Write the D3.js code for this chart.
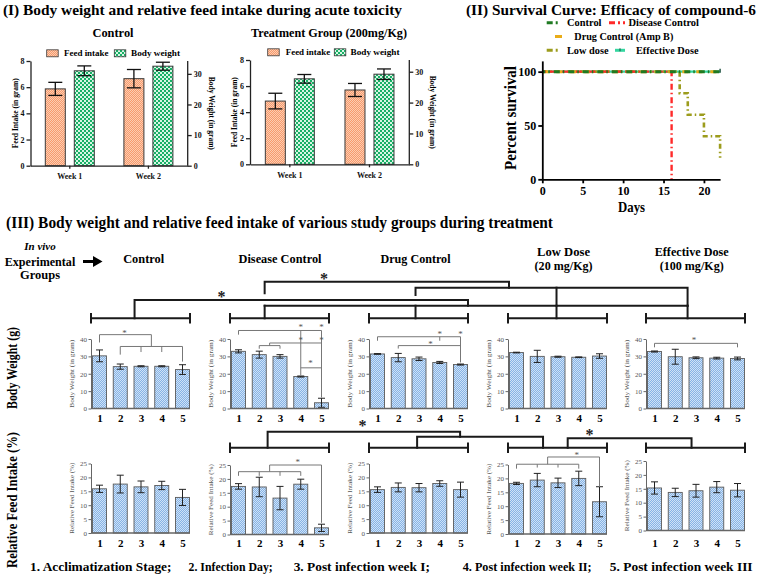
<!DOCTYPE html>
<html>
<head>
<meta charset="utf-8">
<script src="https://cdn.jsdelivr.net/npm/d3@7/dist/d3.min.js"></script>
<style>
html,body{margin:0;padding:0;background:#fff;}
svg{display:block;}
</style>
</head>
<body>
<svg id="chart" width="760" height="577"></svg>
<script>
// ================= DATA =================
// (I) Acute toxicity
const acuteWeeks = ["Week 1", "Week 2"];
const acuteSeries = ["Feed intake", "Body weight"];
const acuteFeedTicks = [0, 2, 4, 6, 8];
const acuteBWTicks = [0, 10, 20, 30];
const controlFeed = [5.87, 6.65];
const controlFeedErr = [0.5, 0.7];
const controlBW = [31.0, 32.5];
const controlBWErr = [1.6, 1.3];
const treatFeed = [4.85, 5.7];
const treatFeedErr = [0.6, 0.5];
const treatBW = [27.7, 29.2];
const treatBWErr = [1.4, 1.7];

// (II) Survival
const survivalNames = ["Control", "Disease Control", "Drug Control (Amp B)", "Low dose", "Effective Dose"];
const survivalDayTicks = [0, 5, 10, 15, 20];
const survivalPctTicks = [0, 50, 100];
const survEffectiveDays = [0, 22];   const survEffectivePct = [100, 100];
const survLowDays = [0, 17, 18, 20, 22]; const survLowPct = [100, 80, 60, 40, 20];
const survDrugDays = [0, 22];        const survDrugPct = [100, 100];
const survDiseaseDays = [0, 16];     const survDiseasePct = [100, 0];
const survControlDays = [0, 22];     const survControlPct = [100, 100];

// (III) Study groups
const studyGroups = ["Control", "Disease Control", "Drug Control", "Low Dose", "Effective Dose"];
const stageLabels = ["1", "2", "3", "4", "5"];
const stageNames = ["1. Acclimatization Stage;", "2. Infection Day;", "3. Post infection week I;", "4. Post infection week II;", "5. Post infection week III"];
const bwTicks = [0, 10, 20, 30, 40];
const fiTicks = [0, 5, 10, 15, 20, 25];
const bwMeans = [[30.3, 24.1, 24.3, 24.3, 22.4], [32.9, 31.0, 30.0, 18.4, 3.3], [31.4, 29.3, 28.6, 26.5, 25.3], [32.2, 30.0, 29.8, 29.5, 30.2], [32.8, 29.8, 29.2, 29.0, 28.8]];
const bwErrs = [[3.4, 1.5, 0.3, 0.3, 2.8], [0.9, 2.0, 1.0, 0.3, 2.6], [0.2, 2.4, 1.0, 0.6, 0.3], [0.2, 3.5, 0.3, 0.2, 1.3], [0.3, 4.3, 0.5, 0.5, 0.8]];
const fiMeans = [[15.9, 17.6, 16.6, 17.1, 12.8], [17.3, 17.1, 13.1, 18.1, 2.4], [15.6, 16.4, 16.3, 17.8, 15.6], [18.2, 19.4, 18.4, 20.0, 11.6], [15.3, 13.7, 14.3, 15.6, 14.5]];
const fiErrs = [[1.3, 3.2, 2.1, 1.5, 2.9], [1.0, 3.5, 4.2, 1.8, 1.3], [1.0, 1.6, 1.5, 1.0, 2.7], [0.4, 2.4, 1.7, 2.6, 5.4], [2.2, 1.5, 2.3, 2.0, 2.4]];
// significance annotations (stage position, value)
const bwBrackets = [
  [[[1, 38], [1, 42.5], [3.5, 42.5], [3.5, 35.7]], [[2, 31], [2, 35.7], [5, 35.7], [5, 27]], [[3, 32.5], [3, 35.7]], [[4, 32.5], [4, 35.7]]],
  [[[1, 42.5], [1, 44.9], [5, 44.9], [5, 6.3]], [[4, 44.9], [4, 19]], [[2, 34.4], [2, 36.2], [3, 36.2], [3, 34.4]], [[2.5, 36.2], [2.5, 37.7], [5, 37.7]], [[4, 23.4], [5, 23.4]]],
  [[[1, 39], [1, 41.3], [5, 41.3], [5, 26.5]], [[4, 41.3], [4, 39]], [[2, 34.5], [2, 36.2], [5, 36.2]]],
  [],
  [[[1, 35.2], [1, 37.5], [5, 37.5], [5, 35.2]]]
];
const bwStars = [[[2.2, 44.5]], [[4, 47.8], [5, 47.8], [4, 40.2], [5, 40.2], [4.47, 26.8]], [[4, 43.8], [5, 43.8], [3.55, 38.2]], [], [[2.9, 40.2]]];
const fiBrackets = [
  [],
  [[[1, 21.1], [1, 22.6], [4, 22.6], [4, 21.1]], [[2, 22.6], [2, 21.1]], [[3, 22.6], [3, 21.1]], [[2.5, 22.6], [2.5, 25], [5, 25], [5, 4.2]]],
  [],
  [[[1, 23.5], [1, 25.1], [4, 25.1], [4, 23.5]], [[2, 25.1], [2, 23.9]], [[3, 25.1], [3, 23.9]], [[2.5, 25.1], [2.5, 27.7], [5, 27.7], [5, 17]]],
  []
];
const fiStars = [[], [[3.85, 26.5]], [], [[3.9, 29]], []];

// ================= SETUP =================
const FONT = "'Liberation Serif','Times New Roman',Times,serif";
const svg = d3.select("#chart");
svg.append("rect").attr("width", 760).attr("height", 577).attr("fill", "#fff");

function label(x, y, s, o = {}) {
  const t = svg.append("text").attr("x", x).attr("y", y).text(s)
    .attr("font-family", FONT).attr("font-size", o.size || 12)
    .attr("font-weight", o.weight || "bold")
    .attr("fill", o.fill || "#000")
    .attr("text-anchor", o.anchor || "start");
  if (o.style) t.attr("font-style", o.style);
  if (o.len) t.attr("textLength", o.len).attr("lengthAdjust", "spacingAndGlyphs");
  if (o.rotate) t.attr("transform", `rotate(${o.rotate},${x},${y})`);
  if (o.dy) t.attr("dy", o.dy);
  return t;
}

const defs = svg.append("defs");
function checker(id, size, c1, c2, cell) {
  const p = defs.append("pattern").attr("id", id).attr("width", size).attr("height", size).attr("patternUnits", "userSpaceOnUse");
  p.append("rect").attr("width", size).attr("height", size).attr("fill", c1);
  p.append("rect").attr("width", cell).attr("height", cell).attr("fill", c2);
  p.append("rect").attr("x", cell).attr("y", cell).attr("width", cell).attr("height", cell).attr("fill", c2);
}
checker("pOrange", 2, "#F79A6C", "#FCCDB2", 1);
checker("pGreen", 4, "#17B066", "#D8F5E4", 2);
checker("pBlue", 2, "#86B3E6", "#CFE2F6", 1);

// ================= (I) =================
label(3, 15, "(I) Body weight and relative feed intake during acute toxicity", { size: 15.5, len: 399 });

function acutePanel(p) {
  const g = svg.append("g");
  const xW = d3.scaleBand().domain(acuteWeeks).range([p.x0, p.x1]);
  const xS = d3.scaleBand().domain(acuteSeries).range([-24.5, 24.5]).paddingInner(0.31);
  const yF = d3.scaleLinear().domain([0, 8]).range([p.y0, p.yTop]);
  const yB = d3.scaleLinear().domain([0, p.bwMax]).range([p.y0, p.yTop]);
  const rows = acuteWeeks.flatMap((w, i) => [
    { w, s: acuteSeries[0], v: p.feed[i], e: p.feedErr[i], y: yF, fill: "url(#pOrange)" },
    { w, s: acuteSeries[1], v: p.bw[i], e: p.bwErr[i], y: yB, fill: "url(#pGreen)" }]);
  const cx = d => xW(d.w) + xW.bandwidth() / 2 + xS(d.s) + xS.bandwidth() / 2;
  g.selectAll("rect.bar").data(rows).join("rect").attr("class", "bar")
    .attr("x", d => cx(d) - xS.bandwidth() / 2).attr("width", xS.bandwidth())
    .attr("y", d => d.y(d.v)).attr("height", d => p.y0 - d.y(d.v))
    .attr("fill", d => d.fill).attr("stroke", "#3a3a3a").attr("stroke-width", 1);
  const eb = g.selectAll("g.err").data(rows).join("g").attr("stroke", "#111").attr("stroke-width", 1.3);
  eb.append("line").attr("x1", cx).attr("x2", cx).attr("y1", d => d.y(d.v + d.e)).attr("y2", d => d.y(d.v - d.e));
  eb.append("line").attr("x1", d => cx(d) - 7).attr("x2", d => cx(d) + 7).attr("y1", d => d.y(d.v + d.e)).attr("y2", d => d.y(d.v + d.e));
  eb.append("line").attr("x1", d => cx(d) - 7).attr("x2", d => cx(d) + 7).attr("y1", d => d.y(d.v - d.e)).attr("y2", d => d.y(d.v - d.e));

  const styleAxis = (a, size) => {
    a.selectAll("path,line").attr("stroke", "#222").attr("stroke-width", 1.3);
    a.selectAll("text").attr("font-family", FONT).attr("font-weight", "bold").attr("font-size", size).attr("fill", "#111");
  };
  const aL = g.append("g").attr("transform", `translate(${p.x0},0)`)
    .call(d3.axisLeft(yF).tickValues(acuteFeedTicks).tickFormat(d3.format("d")).tickSize(4).tickSizeOuter(0).tickPadding(2));
  styleAxis(aL, 8);
  const aR = g.append("g").attr("transform", `translate(${p.x1},0)`)
    .call(d3.axisRight(yB).tickValues(acuteBWTicks).tickSize(4).tickSizeOuter(0).tickPadding(2));
  aR.select("path.domain").attr("d", `M0,${p.y0}V${p.yTop}`);
  styleAxis(aR, 8);
  const aB = g.append("g").attr("transform", `translate(0,${p.y0})`)
    .call(d3.axisBottom(xW).tickSize(3).tickSizeOuter(0).tickPadding(5));
  styleAxis(aB, 8);

  label(p.titleX, 37, p.title, { size: 12.5, anchor: "middle", len: p.titleLen });
  // legend
  const ly = p.legendY;
  svg.append("rect").attr("x", p.legX[0]).attr("y", ly - 3.5).attr("width", 11.5).attr("height", 7).attr("fill", "url(#pOrange)").attr("stroke", "#3a3a3a").attr("stroke-width", 0.8);
  label(p.legX[1], ly + 3, acuteSeries[0], { size: 9, len: 44.5 });
  svg.append("rect").attr("x", p.legX[2]).attr("y", ly - 3.5).attr("width", 11.5).attr("height", 7).attr("fill", "url(#pGreen)").attr("stroke", "#3a3a3a").attr("stroke-width", 0.8);
  label(p.legX[3], ly + 3, acuteSeries[1], { size: 9, len: 49 });
  // axis titles
  const cyMid = (p.y0 + p.yTop) / 2;
  label(p.x0 - 15.5, cyMid, "Feed Intake (in gram)", { size: 7.5, anchor: "middle", rotate: -90, dy: "0.35em", len: 70 });
  label(p.x1 + 23.5, cyMid, "Body Weight (in gram)", { size: 7.5, anchor: "middle", rotate: 90, dy: "0.35em", len: 73 });
}
acutePanel({ x0: 30.5, x1: 187.7, y0: 165.7, yTop: 61, bwMax: 34.2, feed: controlFeed, feedErr: controlFeedErr, bw: controlBW, bwErr: controlBWErr,
  title: "Control", titleX: 113, titleLen: 41, legendY: 53.3, legX: [46.7, 64, 114.3, 131] });
acutePanel({ x0: 250, x1: 409.3, y0: 164.3, yTop: 60, bwMax: 33.8, feed: treatFeed, feedErr: treatFeedErr, bw: treatBW, bwErr: treatBWErr,
  title: "Treatment Group (200mg/Kg)", titleX: 329, titleLen: 156, legendY: 52.3, legX: [267.7, 285.7, 334.3, 350.5] });

// ================= (II) =================
label(466, 14.5, "(II) Survival Curve: Efficacy of compound-6", { size: 15, len: 290 });
(function survival() {
  const x = d3.scaleLinear().domain([0, 22]).range([542.3, 720.1]);
  const y = d3.scaleLinear().domain([0, 110]).range([179.3, 60.9]);
  const g = svg.append("g");
  const series = [
    { name: survivalNames[4], days: survEffectiveDays, pct: survEffectivePct, color: "#34D6A0", dash: null, w: 2.2 },
    { name: survivalNames[3], days: survLowDays, pct: survLowPct, color: "#9C9C1C", dash: "5,3,1.5,3", w: 2.6 },
    { name: survivalNames[2], days: survDrugDays, pct: survDrugPct, color: "#E9AC18", dash: "6,8", w: 3 },
    { name: survivalNames[1], days: survDiseaseDays, pct: survDiseasePct, color: "#FF2A2A", dash: "6,3,1.5,3", w: 2.4, off: 7 },
    { name: survivalNames[0], days: survControlDays, pct: survControlPct, color: "#1F7A22", dash: "6,3,1.5,4", w: 3, off: 3 }
  ];
  const line = d3.line().x(d => x(d[0])).y(d => y(d[1])).curve(d3.curveStepAfter);
  series.forEach(s => {
    const pts = s.days.map((d, i) => [d, s.pct[i]]);
    const path = g.append("path").attr("d", line(pts)).attr("fill", "none").attr("stroke", s.color).attr("stroke-width", s.w);
    if (s.dash) path.attr("stroke-dasharray", s.dash);
    if (s.off) path.attr("stroke-dashoffset", s.off);
  });
  // censor tick for effective dose
  g.append("line").attr("x1", x(22)).attr("x2", x(22)).attr("y1", y(100) - 3).attr("y2", y(100) + 1).attr("stroke", "#1c4f3e").attr("stroke-width", 1.4);

  const ax = g.append("g").attr("transform", `translate(0,${y(0)})`)
    .call(d3.axisBottom(x).tickValues(survivalDayTicks).tickSize(4).tickSizeOuter(0).tickPadding(3));
  const ay = g.append("g").attr("transform", `translate(${x(0)},0)`)
    .call(d3.axisLeft(y).tickValues(survivalPctTicks).tickSize(4).tickSizeOuter(0).tickPadding(2));
  [ax, ay].forEach(a => {
    a.selectAll("path,line").attr("stroke", "#000").attr("stroke-width", 1.8);
    a.selectAll("text").attr("font-family", FONT).attr("font-weight", "bold").attr("font-size", 12).attr("fill", "#000");
  });
  label(510, 118, "Percent survival", { size: 17, anchor: "middle", rotate: -90, dy: "0.35em", len: 104 });
  label(631.5, 212, "Days", { size: 15, anchor: "middle", len: 27 });

  // legend
  const leg = [
    { i: 4, y: 25.8, x1: 546.7, x2: 560, tx: 567, len: 34.5 },
    { i: 3, y: 25.8, x1: 609, x2: 625, tx: 628.5, len: 70.5 },
    { i: 2, y: 39.5, x1: 555, x2: 562, tx: 574.3, len: 99 },
    { i: 1, y: 53.3, x1: 546.7, x2: 560, tx: 567, len: 41.5 },
    { i: 0, y: 53.3, x1: 615, x2: 625, tx: 636, len: 62.5 }
  ];
  leg.forEach(l => {
    const s = series[l.i];
    const ln = g.append("line").attr("x1", l.x1).attr("x2", l.x2).attr("y1", l.y - 3).attr("y2", l.y - 3)
      .attr("stroke", s.color).attr("stroke-width", 3);
    if (s.dash) ln.attr("stroke-dasharray", s.name === "Drug Control (Amp B)" ? null : "6,3,2,3");
    if (s.name === "Effective Dose") g.append("line").attr("x1", (l.x1 + l.x2) / 2).attr("x2", (l.x1 + l.x2) / 2).attr("y1", l.y - 5).attr("y2", l.y - 2).attr("stroke", "#1c4f3e").attr("stroke-width", 1);
    label(l.tx, l.y + 0.5, s.name, { size: 10, len: l.len });
  });
})();

// ================= (III) =================
label(6, 228, "(III) Body weight and relative feed intake of various study groups during treatment", { size: 16, len: 547 });
label(40, 250, "In vivo", { size: 11, weight: "bold", style: "italic", anchor: "middle", len: 31.5 });
label(40, 265.5, "Experimental", { size: 11.5, anchor: "middle", len: 70.5 });
label(40, 279, "Groups", { size: 11.5, anchor: "middle", len: 40 });
svg.append("path").attr("d", "M83,261.5H95").attr("stroke", "#000").attr("stroke-width", 3);
svg.append("path").attr("d", "M93,256L102.5,261.5L93,267Z").attr("fill", "#000");

const panelX0 = [91, 230, 369, 508, 646];
const panelW = 99;
const headerX = [143.7, 280, 415.5, 563.6, 691.7];
label(headerX[0], 263, studyGroups[0], { size: 12.5, anchor: "middle", len: 41 });
label(headerX[1], 263, studyGroups[1], { size: 12.5, anchor: "middle", len: 83 });
label(headerX[2], 263, studyGroups[2], { size: 12.5, anchor: "middle", len: 70 });
label(headerX[3], 255.5, studyGroups[3], { size: 12.5, anchor: "middle", len: 53 });
label(headerX[3], 270, "(20 mg/Kg)", { size: 12.5, anchor: "middle", len: 58 });
label(headerX[4], 255.5, studyGroups[4], { size: 12.5, anchor: "middle", len: 74 });
label(headerX[4], 270, "(100 mg/Kg)", { size: 12.5, anchor: "middle", len: 64 });

label(12, 368, "Body Weight (g)", { size: 14, anchor: "middle", rotate: -90, dy: "0.35em", len: 82 });
label(12, 500, "Relative Feed Intake (%)", { size: 14, anchor: "middle", rotate: -90, dy: "0.35em", len: 136 });

const rowsIII = [
  { key: "bw", max: 40, ticks: bwTicks, y0: 408.5, yTop: 339, title: "Body Weight (in gram)", titleLen: 68, means: bwMeans, errs: bwErrs, labelY: 421.5, dy: [0, 0, 0, 0, 0], brackets: bwBrackets, stars: bwStars },
  { key: "fi", max: 25, ticks: fiTicks, y0: 533, yTop: 463.5, title: "Relative Feed Intake (%)", titleLen: 71, means: fiMeans, errs: fiErrs, labelY: 546.5, dy: [0, 1.5, 0, 1, -2.5], brackets: fiBrackets, stars: fiStars }
];

rowsIII.forEach(row => {
  studyGroups.forEach((grp, gi) => {
    const x0 = panelX0[gi], x1 = x0 + panelW, dy = row.dy[gi];
    const g = svg.append("g");
    const x = d3.scalePoint().domain(stageLabels).range([x0 + 8.5, x1 - 7.5]);
    const y = d3.scaleLinear().domain([0, row.max]).range([row.y0 + dy, row.yTop + dy]);
    const px = pos => x(stageLabels[0]) + (pos - 1) * x.step();
    const data = stageLabels.map((s, i) => ({ s, v: row.means[gi][i], e: row.errs[gi][i] }));
    const bw = 14;
    g.selectAll("rect").data(data).join("rect")
      .attr("x", d => x(d.s) - bw / 2).attr("width", bw)
      .attr("y", d => y(d.v)).attr("height", d => y(0) - y(d.v))
      .attr("fill", "url(#pBlue)").attr("stroke", "#5b5b5b").attr("stroke-width", 0.9);
    const eb = g.selectAll("g.e").data(data).join("g").attr("stroke", "#222").attr("stroke-width", 1);
    eb.append("line").attr("x1", d => x(d.s)).attr("x2", d => x(d.s)).attr("y1", d => y(d.v + d.e)).attr("y2", d => y(Math.max(0, d.v - d.e)));
    eb.append("line").attr("x1", d => x(d.s) - 3.5).attr("x2", d => x(d.s) + 3.5).attr("y1", d => y(d.v + d.e)).attr("y2", d => y(d.v + d.e));
    eb.append("line").attr("x1", d => x(d.s) - 3.5).attr("x2", d => x(d.s) + 3.5).attr("y1", d => y(Math.max(0, d.v - d.e))).attr("y2", d => y(Math.max(0, d.v - d.e)));
    // axes
    const ay = g.append("g").attr("transform", `translate(${x0},0)`)
      .call(d3.axisLeft(y).tickValues(row.ticks).tickSize(2.5).tickSizeOuter(0).tickPadding(1.5));
    ay.selectAll("path,line").attr("stroke", "#666").attr("stroke-width", 1);
    ay.selectAll("text").attr("font-family", FONT).attr("font-size", 7).attr("fill", "#555");
    g.append("line").attr("x1", x0).attr("x2", x1).attr("y1", y(0)).attr("y2", y(0)).attr("stroke", "#666").attr("stroke-width", 1.6);
    const axb = g.append("g").attr("transform", `translate(0,${row.labelY})`)
      .call(d3.axisBottom(x).tickSize(0).tickPadding(0));
    axb.select("path.domain").remove();
    axb.selectAll("text").attr("dy", 0).attr("font-family", FONT).attr("font-weight", "bold").attr("font-size", 11).attr("fill", "#000");
    label(x0 - 19.5, (y(0) + y(row.max)) / 2, row.title, { size: 7, weight: "normal", fill: "#555", anchor: "middle", rotate: -90, dy: "0.35em", len: row.titleLen });
    // significance
    const ln = d3.line().x(d => px(d[0])).y(d => y(d[1]));
    row.brackets[gi].forEach(b => g.append("path").attr("d", ln(b)).attr("fill", "none").attr("stroke", "#777").attr("stroke-width", 1));
    row.stars[gi].forEach(s => g.append("text").attr("x", px(s[0])).attr("y", y(s[1]) + 4.5).text("*")
      .attr("font-family", FONT).attr("font-size", 9).attr("fill", "#555").attr("text-anchor", "middle"));
  });
});

// ---- top-level group comparison brackets ----
const K = "#1a1a1a";
function seg(pts) { svg.append("path").attr("d", d3.line()(pts)).attr("fill", "none").attr("stroke", K).attr("stroke-width", 2).attr("stroke-linecap", "square"); }
function hBracket(gi, yH) {
  const a = panelX0[gi], b = a + panelW;
  seg([[a, yH], [b, yH]]); seg([[a, yH - 4.2], [a, yH + 4.2]]); seg([[b, yH - 4.2], [b, yH + 4.2]]);
}
function bigStar(x, y) {
  svg.append("text").attr("x", x).attr("y", y + 8).text("*").attr("font-family", FONT).attr("font-size", 16).attr("font-weight", "bold").attr("fill", "#222").attr("text-anchor", "middle");
}
const ax = (gi, f) => panelX0[gi] + f * panelW;
// body weight row
const bwH = 318.3;
[0, 1, 2, 3, 4].forEach(gi => hBracket(gi, bwH));
const bwA = [ax(0, 0.44), ax(1, 0.35), ax(2, 0.47), ax(3, 0.49), ax(4, 0.42)];
const L1 = 305.7, L2 = 300, L3 = 287.7, L4 = 281.7;
seg([[bwA[1], L1], [bwA[4], L1]]);
[1, 2, 3, 4].forEach(i => seg([[bwA[i], L1], [bwA[i], bwH]]));
seg([[bwA[0], bwH], [bwA[0], L2], [ax(2, 1), L2], [ax(2, 1), L1]]);
seg([[bwA[2], 295], [bwA[2], L3], [bwA[4], L3], [bwA[4], L1]]);
seg([[bwA[3], L3], [bwA[3], L1]]);
seg([[bwA[1], 293.3], [bwA[1], L4], [509, L4], [509, L3]]);
bigStar(221.6, 294.3);
bigStar(324, 275.7);
// feed intake row
const fiH = 447.7;
[1, 2, 3, 4].forEach(gi => hBracket(gi, fiH));
const fiA = [null, ax(1, 0.38), ax(2, 0.486), ax(3, 0.354), ax(3, 0.603), ax(4, 0.46)];
seg([[fiA[1], fiH], [fiA[1], 431.7], [460.1, 431.7], [460.1, 436.7]]);
seg([[fiA[2], fiH], [fiA[2], 436.7], [fiA[3], 436.7], [fiA[3], fiH]]);
seg([[fiA[4], fiH], [fiA[4], 438.3], [fiA[5], 438.3], [fiA[5], fiH]]);
bigStar(362.4, 423.3);
bigStar(589.4, 431.7);

// bottom stage legend
const stageX = [30, 188.5, 293.7, 462.7, 609.8];
const stageLen = [141.5, 84.3, 136.3, 129, 142.8];
stageNames.forEach((s, i) => label(stageX[i], 571, s, { size: 13, len: stageLen[i] }));
</script>
</body>
</html>
